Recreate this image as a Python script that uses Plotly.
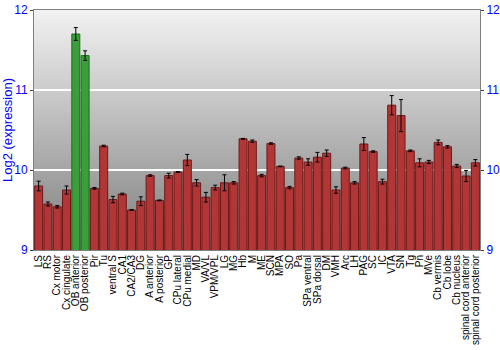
import base64
import plotly.graph_objects as go

regions = ["LS", "RS", "Cx motor", "Cx cingulate", "OB anterior", "OB posterior", "Pir", "Tu",
           "ventral S", "CA1", "CA2/CA3", "DG", "A anterior", "A posterior", "GP", "CPu lateral",
           "CPu medial", "MD", "VA/VL", "VPM/VPL", "LG", "MG", "Hb", "M", "ME", "SCN", "MPA", "SO",
           "Pa", "SPa ventral", "SPa dorsal", "DM", "VMH", "Arc", "LH", "PAG", "SC", "IC", "VTA",
           "SN", "Tg", "Pn", "MVe", "Cb vermis", "Cb lobe", "Cb nucleus",
           "spinal cord anterior", "spinal cord posterior"]
expression = [9.80, 9.575, 9.54, 9.75, 11.70, 11.43, 9.77, 10.30,
              9.63, 9.70, 9.50, 9.61, 9.93, 9.62, 9.93, 9.975,
              10.125, 9.84, 9.66, 9.78, 9.84, 9.84, 10.39, 10.36, 9.93, 10.33, 10.045, 9.78,
              10.15, 10.10, 10.16, 10.21, 9.75, 10.025, 9.84, 10.325, 10.23, 9.855, 10.81,
              10.68, 10.24, 10.09, 10.10, 10.345, 10.29, 10.05,
              9.925, 10.09]
error = [0.06, 0.025, 0.015, 0.05, 0.08, 0.06, 0.01, 0.01,
         0.04, 0.01, 0.005, 0.055, 0.01, 0.005, 0.03, 0.005,
         0.07, 0.04, 0.06, 0.03, 0.10, 0.015, 0.005, 0.015, 0.015, 0.01, 0.005, 0.015,
         0.015, 0.04, 0.06, 0.04, 0.04, 0.01, 0.015, 0.08, 0.01, 0.03, 0.12,
         0.20, 0.01, 0.05, 0.02, 0.03, 0.015, 0.02,
         0.07, 0.04]
highlight = ["OB anterior", "OB posterior"]
y_ticks = [9, 10, 11, 12]

fill = ["#3a9e3a" if r in highlight else "#b33636" for r in regions]
edge = ["#1f6b1f" if r in highlight else "#6e1818" for r in regions]

svg = ('<svg xmlns="http://www.w3.org/2000/svg" width="100" height="100" preserveAspectRatio="none">'
       '<defs><linearGradient id="g" x1="0" y1="0" x2="0" y2="1">'
       '<stop offset="0" stop-color="#f2f2f2"/><stop offset="1" stop-color="#7e7e7e"/>'
       '</linearGradient></defs><rect width="100" height="100" fill="url(#g)"/></svg>')
bg_uri = "data:image/svg+xml;base64," + base64.b64encode(svg.encode()).decode()

fig = go.Figure()
fig.add_trace(go.Bar(
    x=regions, y=expression,
    marker=dict(color=fill, line=dict(color=edge, width=1)),
    error_y=dict(type="data", array=error, color="black", thickness=1, width=2),
    showlegend=False,
))
fig.add_trace(go.Scatter(x=regions, y=expression, yaxis="y2", mode="markers",
                         marker=dict(opacity=0), hoverinfo="skip", showlegend=False))

fig.update_layout(
    width=500, height=350,
    margin=dict(l=34, r=20, t=10, b=100),
    paper_bgcolor="white",
    plot_bgcolor="rgba(0,0,0,0)",
    bargap=0.14,
    font=dict(family="Liberation Sans, Arial, sans-serif", color="black"),
    images=[dict(source=bg_uri, xref="paper", yref="paper", x=0, y=1, sizex=1, sizey=1,
                 sizing="stretch", layer="below", xanchor="left", yanchor="top")],
    xaxis=dict(tickangle=-90, tickfont=dict(size=10, color="black"), showgrid=False,
               tickmode="linear", dtick=1, automargin=False,
               showline=True, linecolor="#808080", mirror=True, ticks="",
               range=[-0.5, len(regions) - 0.5]),
    yaxis=dict(range=[9, 12], tickvals=y_ticks, tickfont=dict(size=12, color="blue"),
               automargin=False,
               showgrid=True, gridcolor="white", gridwidth=1.5, zeroline=False,
               showline=True, linecolor="#808080", ticks="outside", ticklen=3,
               tickcolor="#404040",
               title=dict(text="Log2 (expression)", font=dict(size=13, color="blue"),
                          standoff=4)),
    yaxis2=dict(range=[9, 12], tickvals=y_ticks, overlaying="y", side="right",
                automargin=False,
                tickfont=dict(size=12, color="blue"), showgrid=False, zeroline=False,
                showline=True, linecolor="#808080", ticks="outside", ticklen=3,
                tickcolor="#404040"),
)

fig.write_html("out.html")
